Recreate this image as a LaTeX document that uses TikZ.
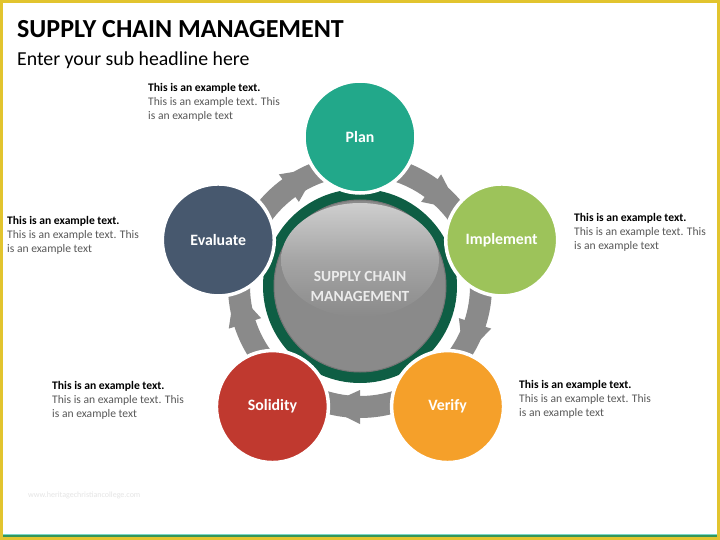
\documentclass[tikz,border=0pt]{standalone}
\usepackage{fontspec}
\setmainfont{Carlito}
\usepackage{tikz}
\usetikzlibrary{calc,positioning}

\definecolor{frameyellow}{RGB}{226,196,46}
\definecolor{lineteal}{RGB}{120,214,200}
\definecolor{linegreen}{RGB}{52,150,90}
\definecolor{plancol}{RGB}{34,168,138}
\definecolor{implcol}{RGB}{157,195,90}
\definecolor{verifycol}{RGB}{245,160,42}
\definecolor{solidcol}{RGB}{192,57,47}
\definecolor{evalcol}{RGB}{71,88,110}
\definecolor{ringgreen}{RGB}{14,94,68}
\definecolor{hubgray}{RGB}{138,138,138}
\definecolor{hubhi}{RGB}{206,206,206}
\definecolor{bandgray}{RGB}{138,138,138}
\definecolor{txtgray}{RGB}{89,89,89}

\begin{document}
\begin{tikzpicture}[x=1pt, y=1pt,
  stage/.style={circle, minimum size=112pt, inner sep=0pt, draw=white, line width=3.5pt,
    text=white, font=\fontsize{15.8}{18}\selectfont\bfseries},
  note/.style={anchor=north west, inner sep=0pt, align=left, font=\fontsize{11.6}{14}\selectfont},
  band/.style={fill=bandgray}]

  \useasboundingbox (0,0) rectangle (720,-540);
  % ---- Frame ----
  \fill[frameyellow] (0,0) rectangle (720,-540);
  \fill[white] (3,-3) rectangle (717,-537);
  \fill[lineteal] (3,-533.5) rectangle (717,-534.5);
  \fill[linegreen] (3,-534.5) rectangle (717,-537);

  % ---- Headings ----
  \node[anchor=base west, inner sep=0pt, font=\fontsize{26}{30}\selectfont\bfseries] (title) at (17,-38) {SUPPLY CHAIN MANAGEMENT};
  \node[anchor=base west, inner sep=0pt, font=\fontsize{19.8}{22}\selectfont] (subtitle) at (17,-66) {Enter your sub headline here};

  \coordinate (C) at (360,-286);

  % ---- Ring arrows between the stages (clockwise) ----
  \foreach \a [evaluate=\a as \b using \a-72, evaluate=\a as \m using \a-36] in {90,18,-54,-126,162} {
    \fill[band] ($(C)+(\a:132)$) arc[start angle=\a, end angle=\b, radius=132]
      -- ($(C)+(\b:110)$) arc[start angle=\b, end angle=\a, radius=110] -- cycle;
    \fill[band] ($(C)+(\m:131)$) -- ($(C)+(\m:138)$) -- ($(C)+({\m-7}:131)$) -- cycle;
    \fill[band] ($(C)+(\m:111)$) -- ($(C)+(\m:104)$) -- ($(C)+({\m-7}:111)$) -- cycle;
  }

  % ---- Hub ----
  \fill[ringgreen] (C) circle (97);
  \fill[hubgray, draw=hubgray!85!black, line width=1pt] (C) circle (86);
  \shade[top color=hubhi, bottom color=hubgray, middle color=hubgray!60!hubhi] ($(C)+(0,26)$) ellipse (79 and 57);
  \node[font=\fontsize{15.5}{20}\selectfont\bfseries, text=white!92!black, align=center] (hub) at (C) {SUPPLY CHAIN\\MANAGEMENT};

  % ---- Stages ----
  \node[stage, fill=plancol] (plan) at ($(C)+(90:149)$) {Plan};
  \node[stage, fill=implcol] (implement) at ($(C)+(18:149)$) {Implement};
  \node[stage, fill=verifycol] (verify) at ($(C)+(-54:149)$) {Verify};
  \node[stage, fill=solidcol] (solidity) at ($(C)+(-126:149)$) {Solidity};
  \node[stage, fill=evalcol] (evaluate) at ($(C)+(162:149)$) {Evaluate};

  % ---- Notes ----
  \node[note] (planNote) at (148,-83) {\textbf{This is an example text.}\\ \textcolor{txtgray}{This is an example text. This}\\ \textcolor{txtgray}{is an example text}};
  \node[note] (evalNote) at (7,-216) {\textbf{This is an example text.}\\ \textcolor{txtgray}{This is an example text. This}\\ \textcolor{txtgray}{is an example text}};
  \node[note] (implNote) at (574,-213) {\textbf{This is an example text.}\\ \textcolor{txtgray}{This is an example text. This}\\ \textcolor{txtgray}{is an example text}};
  \node[note] (solidNote) at (52,-381) {\textbf{This is an example text.}\\ \textcolor{txtgray}{This is an example text. This}\\ \textcolor{txtgray}{is an example text}};
  \node[note] (verifyNote) at (519,-380) {\textbf{This is an example text.}\\ \textcolor{txtgray}{This is an example text. This}\\ \textcolor{txtgray}{is an example text}};

  % watermark
  \node[anchor=base west, inner sep=0pt, font=\fontsize{8}{9}\selectfont, text=black!10] (mark) at (28,-497) {www.heritagechristiancollege.com};
\end{tikzpicture}
\end{document}
